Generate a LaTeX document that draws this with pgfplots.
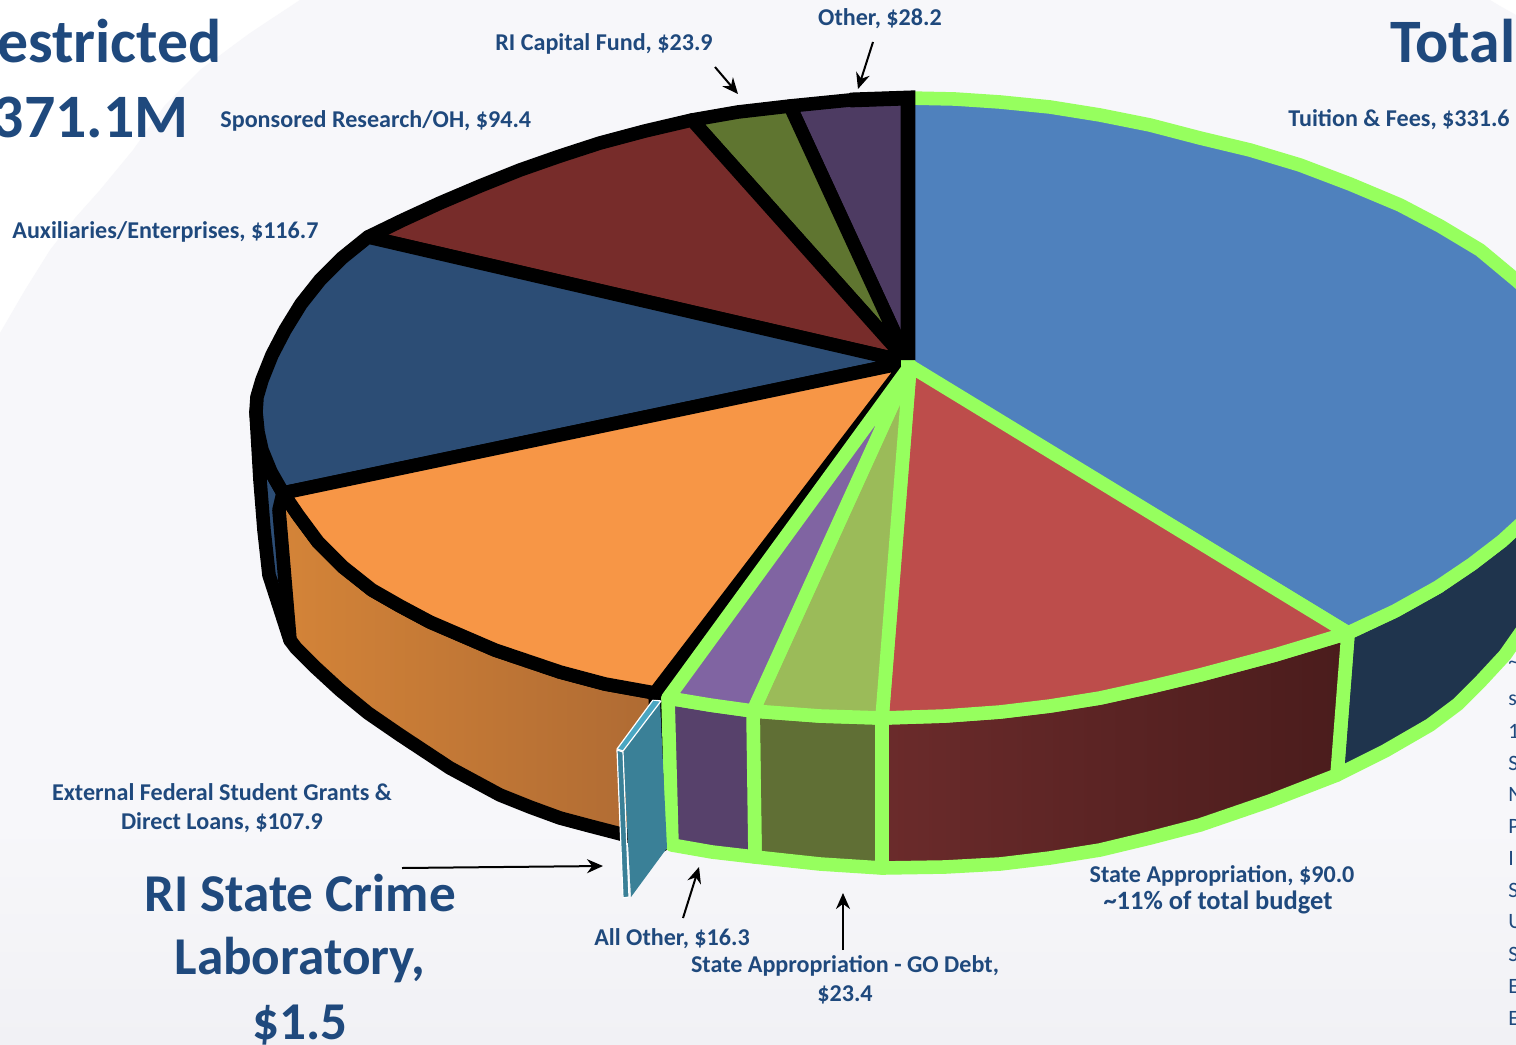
\documentclass[border=0pt]{standalone}
\usepackage{pgfplots}
\pgfplotsset{compat=1.18}
\usepackage{fontspec}
\setmainfont{Carlito}
\usetikzlibrary{arrows.meta}
\definecolor{tx}{HTML}{1F497D}
\definecolor{gr}{HTML}{96FF5E}
\definecolor{moon}{HTML}{F7F7FA}
\definecolor{moonb}{HTML}{F1F1F5}
\definecolor{c1}{HTML}{4F81BD}
\definecolor{c2}{HTML}{BD4D4B}
\definecolor{c3}{HTML}{9BBB59}
\definecolor{c4}{HTML}{8064A2}
\definecolor{c5}{HTML}{F79646}
\definecolor{c6}{HTML}{2C4D75}
\definecolor{c7}{HTML}{772C2A}
\definecolor{c8}{HTML}{5F7530}
\definecolor{c9}{HTML}{4D3B62}
\definecolor{w1}{HTML}{1F344D}
\definecolor{w2a}{HTML}{6B2B2B}
\definecolor{w2b}{HTML}{4A1C1C}
\definecolor{w3}{HTML}{606F35}
\definecolor{w4}{HTML}{57416B}
\definecolor{w5a}{HTML}{D48438}
\definecolor{w5b}{HTML}{AE6A33}
\definecolor{teal}{HTML}{3A8097}
\definecolor{teal2}{HTML}{4AA6C2}
\tikzset{
 lab/.style={font=\bfseries\fontsize{12.1}{14}\selectfont,text=tx,inner sep=0pt},
 big/.style={font=\bfseries\fontsize{26.7}{30}\selectfont,text=tx,inner sep=0pt},
 huge/.style={font=\bfseries\fontsize{31}{36}\selectfont,text=tx,inner sep=0pt},
 sm/.style={font=\fontsize{11}{13}\selectfont,text=tx,anchor=west,inner sep=0pt},
 arr/.style={black,line width=1bp,-{Stealth[length=8bp,width=7bp]}}}
\begin{document}
\begin{tikzpicture}
\clip (0,0) rectangle (758bp,522.5bp);
\begin{axis}[at={(0,0)},anchor=south west,width=758bp,height=522.5bp,scale only axis,
 xmin=0,xmax=1516,ymin=0,ymax=1045,y dir=reverse,axis lines=none,clip=true,
 every axis plot/.append style={line join=round,mark=none}]
% background
\addplot[fill=white,draw=none] coordinates {(0,0)(1516,0)(1516,1045)(0,1045)} --cycle;
\addplot[fill=moon,draw=none] coordinates {(0,333)(25,290)(50,250)(75,218)(100,190)(133,150)(165,105)(200,70)(250,33)(300,0)(1490,0)(1500,6)(1516,15)(1516,1045)(0,1045)} --cycle;
\addplot[top color=moon,bottom color=moonb,draw=none] coordinates {(0,820)(1516,820)(1516,1045)(0,1045)} --cycle;
% black walls
\addplot[draw=black,line width=6.8bp,fill=c6] coordinates {(256,412)(258,432)(262,450)(271,472)(283,493)(290,640)(280,609)(269,575)(264,530)(260,480)} --cycle;
\addplot[draw=black,line width=6.8bp,left color=w5a,right color=w5b] coordinates {(283,493)(298,515)(318,542)(343,567)(372,590)(400,606)(430,622)(495,650)(560,672)(605,684)(655,693)(662,845)(617,833)(590,826)(560,818)(530,807)(500,795)(450,768)(400,735)(368,713)(340,690)(315,667)(296,648)(290,640)(279,510)} --cycle;
% green walls
\addplot[draw=gr,line width=6.8bp,fill=w1] coordinates {(1348,633)(1395,611)(1438,587)(1472,564)(1502,541)(1540,505)(1540,605)(1505,655)(1480,682)(1458,704)(1430,725)(1385,751)(1337,775)} --cycle;
\addplot[draw=gr,line width=6.8bp,left color=w2a,right color=w2b] coordinates {(882,718)(945,716)(1000,712)(1050,706)(1100,698)(1150,687)(1200,675)(1275,655)(1348,633)(1337,775)(1270,801)(1200,825)(1150,838)(1100,850)(1050,858)(1000,864)(945,867)(882,868)} --cycle;
\addplot[draw=gr,line width=6.8bp,fill=w3] coordinates {(753,711)(820,716)(882,718)(882,868)(820,864)(755,857)} --cycle;
\addplot[draw=gr,line width=6.8bp,fill=w4] coordinates {(668,698)(710,705)(753,711)(755,857)(712,852)(672,845)} --cycle;
% pane
\addplot[fill=teal,draw=none] coordinates {(623,752)(660,702)(667,848)(631,897)} --cycle;
\addplot[fill=teal,draw=white,line width=0.6bp] coordinates {(617,750)(623,752)(629,897)(623,898)} --cycle;
\addplot[fill=teal2,draw=white,line width=0.6bp] coordinates {(617,749)(653,700)(661,701)(623,751)} --cycle;
% top faces, black side
\addplot[draw=black,line width=6.8bp,fill=c9] coordinates {(908,98)(850,100)(790,106)(908,362)} --cycle;
\addplot[draw=black,line width=6.8bp,fill=c8] coordinates {(790,106)(738,112)(692,120)(908,362)} --cycle;
\addplot[draw=black,line width=6.8bp,fill=c7] coordinates {(692,120)(645,131)(600,143)(560,156)(520,170)(480,186)(440,203)(403,220)(368,237)(908,362)} --cycle;
\addplot[draw=black,line width=6.8bp,fill=c6] coordinates {(368,237)(342,258)(320,280)(301,304)(285,330)(272,355)(262,380)(257,397)(256,412)(258,432)(262,450)(271,472)(283,493)(908,362)} --cycle;
\addplot[draw=black,line width=6.8bp,fill=c5] coordinates {(283,493)(298,515)(318,542)(343,567)(372,590)(400,606)(430,622)(495,650)(560,672)(605,684)(655,693)(908,362)} --cycle;
% top faces, green side
\addplot[draw=gr,line width=6.8bp,fill=c1] coordinates {(908,98)(955,99)(1000,102)(1050,107)(1100,115)(1150,125)(1200,138)(1250,150)(1300,165)(1350,184)(1400,205)(1440,226)(1480,250)(1516,280)(1550,310)(1550,490)(1525,520)(1502,541)(1472,564)(1438,587)(1395,611)(1348,633)(908,366)} --cycle;
\addplot[draw=gr,line width=6.8bp,fill=c2] coordinates {(910,366)(1348,633)(1275,655)(1200,675)(1150,687)(1100,698)(1050,706)(1000,712)(945,716)(882,718)} --cycle;
\addplot[draw=gr,line width=6.8bp,fill=c3] coordinates {(910,366)(882,718)(820,716)(753,711)} --cycle;
\addplot[draw=gr,line width=6.8bp,fill=c4] coordinates {(910,366)(753,711)(710,705)(668,698)} --cycle;
\addplot[draw=black,line width=7.4bp,line join=miter] coordinates {(850,100)(908,98)(908,360)};
% arrows
\addplot[arr] coordinates {(715,67)(738,94)};
\addplot[arr] coordinates {(873,42)(858,89)};
\addplot[arr] coordinates {(402,868)(603,866)};
\addplot[arr] coordinates {(683,918)(699,867)};
\addplot[arr] coordinates {(843,950)(843,893)};
% text
\node[lab] at (axis cs:880,19) {Other, \$28.2};
\node[lab] at (axis cs:604,44) {RI Capital Fund, \$23.9};
\node[lab,anchor=west] at (axis cs:220,121) {Sponsored Research/OH, \$94.4};
\node[lab,anchor=west] at (axis cs:1288,120) {Tuition \& Fees, \$331.6};
\node[lab,anchor=west] at (axis cs:12,232) {Auxiliaries/Enterprises, \$116.7};
\node[lab] at (axis cs:222,792) {External Federal Student Grants \&};
\node[lab] at (axis cs:222,823) {Direct Loans, \$107.9};
\node[lab] at (axis cs:672,939) {All Other, \$16.3};
\node[lab] at (axis cs:845,966) {State Appropriation - GO Debt,};
\node[lab] at (axis cs:845,995) {\$23.4};
\node[lab] at (axis cs:1222,876) {State Appropriation, \$90.0};
\node[lab,font=\bfseries\fontsize{13.3}{15}\selectfont] at (axis cs:1218,902) {\char"007E 11\% of total budget};
\node[big] at (axis cs:300,893) {RI State Crime};
\node[big] at (axis cs:300,960) {Laboratory,};
\node[big] at (axis cs:300,1025) {\$1.5};
\node[huge,anchor=east] at (axis cs:222,41) {Restricted};
\node[huge,anchor=east] at (axis cs:189,121) {\$371.1M};
\node[huge,anchor=west] at (axis cs:1390,41) {Total};
\node[sm] at (axis cs:1508,665) {\char"007E};
\node[sm] at (axis cs:1508,700) {s};
\node[sm] at (axis cs:1508,731) {1};
\node[sm] at (axis cs:1508,763) {S};
\node[sm] at (axis cs:1508,794) {N};
\node[sm] at (axis cs:1508,826) {P};
\node[sm] at (axis cs:1508,858) {I};
\node[sm] at (axis cs:1508,890) {S};
\node[sm] at (axis cs:1508,922) {U};
\node[sm] at (axis cs:1508,954) {S};
\node[sm] at (axis cs:1508,986) {E};
\node[sm] at (axis cs:1508,1018) {E};
\end{axis}
\end{tikzpicture}
\end{document}
